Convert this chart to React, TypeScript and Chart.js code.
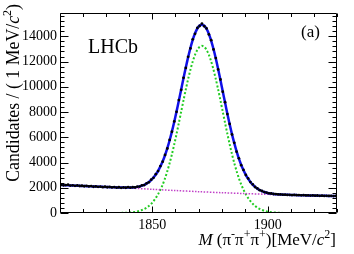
import React, { useEffect, useRef } from "react";
import { Chart, registerables } from "chart.js";

Chart.register(...registerables);

// Bin centres, 1 MeV/c^2 bins
const massBins = [
  1810.5, 1811.5, 1812.5, 1813.5, 1814.5, 1815.5, 1816.5, 1817.5, 1818.5, 1819.5,
  1820.5, 1821.5, 1822.5, 1823.5, 1824.5, 1825.5, 1826.5, 1827.5, 1828.5, 1829.5,
  1830.5, 1831.5, 1832.5, 1833.5, 1834.5, 1835.5, 1836.5, 1837.5, 1838.5, 1839.5,
  1840.5, 1841.5, 1842.5, 1843.5, 1844.5, 1845.5, 1846.5, 1847.5, 1848.5, 1849.5,
  1850.5, 1851.5, 1852.5, 1853.5, 1854.5, 1855.5, 1856.5, 1857.5, 1858.5, 1859.5,
  1860.5, 1861.5, 1862.5, 1863.5, 1864.5, 1865.5, 1866.5, 1867.5, 1868.5, 1869.5,
  1870.5, 1871.5, 1872.5, 1873.5, 1874.5, 1875.5, 1876.5, 1877.5, 1878.5, 1879.5,
  1880.5, 1881.5, 1882.5, 1883.5, 1884.5, 1885.5, 1886.5, 1887.5, 1888.5, 1889.5,
  1890.5, 1891.5, 1892.5, 1893.5, 1894.5, 1895.5, 1896.5, 1897.5, 1898.5, 1899.5,
  1900.5, 1901.5, 1902.5, 1903.5, 1904.5, 1905.5, 1906.5, 1907.5, 1908.5, 1909.5,
  1910.5, 1911.5, 1912.5, 1913.5, 1914.5, 1915.5, 1916.5, 1917.5, 1918.5, 1919.5,
  1920.5, 1921.5, 1922.5, 1923.5, 1924.5, 1925.5, 1926.5, 1927.5, 1928.5, 1929.5,
];

// Data: candidates per bin
const candidates = [
  2230, 2190, 2215, 2240, 2170, 2195, 2150, 2185, 2140, 2160,
  2120, 2150, 2105, 2135, 2080, 2110, 2075, 2095, 2050, 2085,
  2040, 2070, 2030, 2055, 2005, 2040, 1995, 2030, 2000, 2045,
  2005, 2050, 2030, 2090, 2095, 2190, 2210, 2350, 2430, 2640,
  2790, 3080, 3320, 3720, 4070, 4600, 5110, 5790, 6440, 7260,
  8020, 8950, 9760, 10710, 11500, 12380, 13040, 13760, 14200, 14670,
  14820, 15010, 14800, 14630, 14150, 13700, 12960, 12280, 11380, 10580,
  9610, 8780, 7840, 7060, 6220, 5560, 4860, 4330, 3790, 3410,
  3010, 2740, 2450, 2265, 2060, 1945, 1810, 1745, 1655, 1615,
  1560, 1545, 1505, 1500, 1470, 1475, 1450, 1455, 1435, 1440,
  1420, 1430, 1410, 1420, 1400, 1410, 1390, 1400, 1380, 1390,
  1370, 1385, 1365, 1375, 1355, 1365, 1350, 1360, 1340, 1350,
];

// Total fit (blue)
const totalFit = [
  2216, 2208, 2200, 2192, 2184, 2176, 2168, 2160, 2152, 2144,
  2136, 2128, 2120, 2112, 2104, 2096, 2088, 2080, 2072, 2064,
  2056, 2048, 2041, 2034, 2028, 2022, 2017, 2014, 2012, 2014,
  2020, 2030, 2045, 2070, 2110, 2165, 2235, 2330, 2455, 2615,
  2815, 3055, 3345, 3695, 4095, 4575, 5135, 5765, 6465, 7232,
  8053, 8915, 9794, 10676, 11536, 12341, 13080, 13717, 14238, 14622,
  14854, 14928, 14838, 14589, 14188, 13650, 12996, 12240, 11418, 10541,
  9643, 8748, 7870, 7033, 6249, 5532, 4885, 4308, 3811, 3394,
  3027, 2721, 2465, 2249, 2073, 1932, 1821, 1735, 1664, 1608,
  1567, 1537, 1512, 1492, 1477, 1466, 1456, 1448, 1441, 1434,
  1428, 1422, 1417, 1412, 1407, 1402, 1397, 1392, 1387, 1382,
  1378, 1374, 1370, 1366, 1362, 1358, 1354, 1350, 1346, 1342,
];

// Signal component (green dotted)
const signalFit = [
  0, 0, 0, 0, 0, 0, 0, 0, 0, 0,
  0, 0, 0, 0, 0, 0, 0, 0, 0, 0,
  0, 0, 1, 2, 4, 6, 9, 14, 20, 30,
  45, 65, 90, 125, 175, 240, 320, 425, 560, 730,
  940, 1190, 1490, 1850, 2260, 2750, 3320, 3960, 4670, 5447,
  6277, 7148, 8036, 8927, 9796, 10610, 11358, 12004, 12534, 12927,
  13168, 13250, 13168, 12927, 12534, 12004, 11358, 10610, 9796, 8927,
  8036, 7148, 6277, 5447, 4670, 3960, 3320, 2750, 2260, 1850,
  1490, 1190, 940, 730, 560, 425, 320, 240, 175, 125,
  90, 65, 45, 30, 20, 14, 9, 6, 4, 2,
  1, 0, 0, 0, 0, 0, 0, 0, 0, 0,
  0, 0, 0, 0, 0, 0, 0, 0, 0, 0,
];

// Background component (magenta dotted)
const bkgMass = [1810, 1820, 1830, 1840, 1850, 1860, 1870, 1880, 1890, 1900, 1910, 1920, 1930];
const bkgFit = [2220, 2140, 2060, 1980, 1880, 1780, 1690, 1610, 1540, 1480, 1430, 1380, 1340];

const xRange = [1810, 1930];
const yRange = [0, 15850];
const xTickLabels = [1850, 1900];
const yTickLabels = [0, 2000, 4000, 6000, 8000, 10000, 12000, 14000];
const xMinorStep = 10;
const yMinorStep = 400;

const SERIF = '"Liberation Serif", "Times New Roman", serif';

type Seg = { t: string; italic?: boolean; sup?: boolean };

function drawRich(ctx: CanvasRenderingContext2D, segs: Seg[], x: number, y: number, size: number) {
  const fontFor = (s: Seg) => `${s.italic ? "italic " : ""}${s.sup ? Math.round(size * 0.68) : size}px ${SERIF}`;
  let total = 0;
  const widths: number[] = [];
  for (const s of segs) {
    ctx.font = fontFor(s);
    const w = ctx.measureText(s.t).width;
    widths.push(w);
    total += w;
  }
  let cx = x - total;
  ctx.textAlign = "left";
  ctx.textBaseline = "alphabetic";
  segs.forEach((s, i) => {
    ctx.font = fontFor(s);
    ctx.fillText(s.t, cx, s.sup ? y - size * 0.4 : y);
    cx += widths[i];
  });
}

const xTitle: Seg[] = [
  { t: "M", italic: true },
  { t: " (π" },
  { t: "-", sup: true },
  { t: "π" },
  { t: "+", sup: true },
  { t: "π" },
  { t: "+", sup: true },
  { t: ")[MeV/" },
  { t: "c", italic: true },
  { t: "2", sup: true },
  { t: "]" },
];
const yTitle: Seg[] = [
  { t: "Candidates / ( 1 MeV/" },
  { t: "c", italic: true },
  { t: "2", sup: true },
  { t: ")" },
];

const framePlugin = {
  id: "lhcbFrame",
  afterDraw(chart: any) {
    const { ctx, chartArea: a, scales } = chart;
    const xs = scales.x;
    const ys = scales.y;
    ctx.save();
    ctx.strokeStyle = "#000";
    ctx.lineWidth = 1;
    const L = Math.round(a.left) + 0.5;
    const R = Math.round(a.right) - 0.5;
    const T = Math.round(a.top) + 0.5;
    const B = Math.round(a.bottom) - 0.5;
    ctx.beginPath();
    ctx.rect(L, T, R - L, B - T);
    for (let v = xRange[0]; v <= xRange[1] + 1e-6; v += xMinorStep) {
      const px = Math.round(xs.getPixelForValue(v)) + 0.5;
      const len = v % 50 === 0 ? 6 : 3.5;
      ctx.moveTo(px, B);
      ctx.lineTo(px, B - len);
      ctx.moveTo(px, T);
      ctx.lineTo(px, T + len);
    }
    for (let v = yRange[0]; v <= yRange[1] + 1e-6; v += yMinorStep) {
      const py = Math.round(ys.getPixelForValue(v)) + 0.5;
      const len = v % 2000 === 0 ? 8 : 4;
      ctx.moveTo(L, py);
      ctx.lineTo(L + len, py);
      ctx.moveTo(R, py);
      ctx.lineTo(R - len, py);
    }
    ctx.stroke();

    ctx.fillStyle = "#000";
    drawRich(ctx, xTitle, a.right - 1, 244.5, 17);
    ctx.save();
    ctx.translate(18.5, 4);
    ctx.rotate(-Math.PI / 2);
    drawRich(ctx, yTitle, 0, 0, 17.8);
    ctx.restore();
    ctx.font = `20px ${SERIF}`;
    ctx.textAlign = "left";
    ctx.textBaseline = "alphabetic";
    ctx.fillText("LHCb", 88, 53.3);
    ctx.font = `17px ${SERIF}`;
    ctx.fillText("(a)", 301, 37);
    ctx.restore();
  },
};

export default function App() {
  const ref = useRef<HTMLCanvasElement | null>(null);
  useEffect(() => {
    document.body.style.margin = "0";
    const canvas = ref.current;
    if (!canvas) return;
    const chart = new Chart(canvas, {
      type: "line",
      data: {
        datasets: [
          {
            label: "Data",
            data: massBins.map((m, i) => ({ x: m, y: candidates[i] })),
            showLine: false,
            pointRadius: 1.4,
            pointBackgroundColor: "#000",
            pointBorderWidth: 0,
            order: 0,
          },
          {
            label: "Fit",
            data: massBins.map((m, i) => ({ x: m, y: totalFit[i] })),
            borderColor: "#1010e8",
            borderWidth: 2.5,
            pointRadius: 0,
            tension: 0.3,
            order: 1,
          },
          {
            label: "Background",
            data: bkgMass.map((m, i) => ({ x: m, y: bkgFit[i] })),
            borderColor: "#c040c8",
            borderWidth: 1.5,
            borderDash: [1.5, 1.5],
            pointRadius: 0,
            tension: 0.3,
            order: 2,
          },
          {
            label: "Signal",
            data: massBins.map((m, i) => ({ x: m, y: signalFit[i] })),
            borderColor: "#22cc22",
            borderWidth: 2,
            borderDash: [2, 2],
            pointRadius: 0,
            tension: 0.3,
            order: 3,
          },
        ],
      },
      options: {
        animation: false,
        responsive: false,
        devicePixelRatio: 1,
        layout: { padding: { top: 13, right: 17, left: 0, bottom: 0 } },
        plugins: { legend: { display: false }, tooltip: { enabled: false } },
        scales: {
          x: {
            type: "linear",
            min: xRange[0],
            max: xRange[1],
            grid: { display: false, drawTicks: false },
            border: { display: false },
            afterBuildTicks: (s: any) => {
              s.ticks = xTickLabels.map((v) => ({ value: v }));
            },
            afterFit: (s: any) => {
              s.height = 41;
            },
            ticks: {
              padding: 4,
              maxRotation: 0,
              color: "#000",
              font: { family: SERIF, size: 14 },
              callback: (v: any) => `${v}`,
            },
          },
          y: {
            type: "linear",
            min: yRange[0],
            max: yRange[1],
            grid: { display: false, drawTicks: false },
            border: { display: false },
            afterBuildTicks: (s: any) => {
              s.ticks = yTickLabels.map((v) => ({ value: v }));
            },
            afterFit: (s: any) => {
              s.width = 60;
            },
            ticks: {
              padding: 3,
              color: "#000",
              font: { family: SERIF, size: 14 },
              callback: (v: any) => `${v}`,
            },
          },
        },
      },
      plugins: [framePlugin],
    });
    return () => chart.destroy();
  }, []);
  return (
    <div style={{ position: "absolute", left: 0, top: 0, width: 354, height: 254, background: "#fff" }}>
      <canvas ref={ref} width={354} height={254} style={{ display: "block", width: 354, height: 254 }} />
    </div>
  );
}
